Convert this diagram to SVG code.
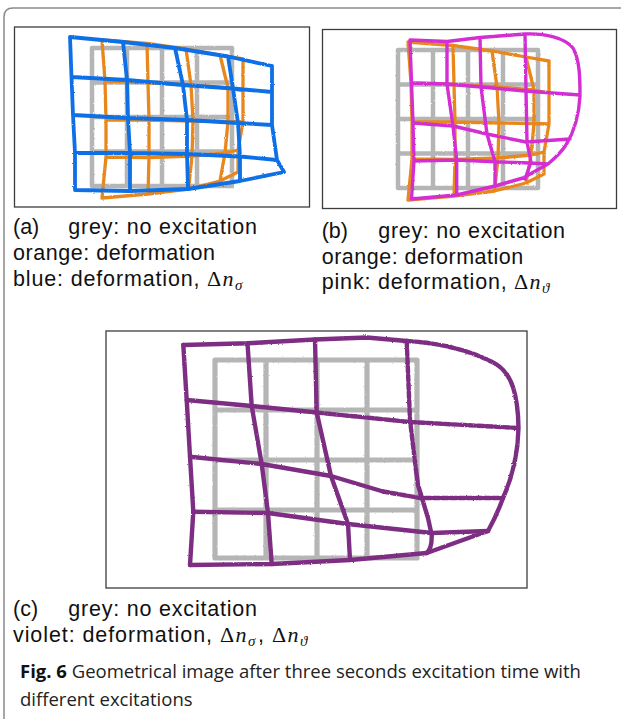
<svg xmlns="http://www.w3.org/2000/svg" xmlns:xlink="http://www.w3.org/1999/xlink" width="621" height="719" viewBox="0 0 621 719">
<style>
  .frame{fill:none;stroke:#8a8a8a;stroke-width:1.5}
  .box{fill:#fff;stroke:#3c3c3c;stroke-width:1.3}
  .ln{fill:none;stroke-linecap:round;stroke-linejoin:round}
  .g{stroke:#b5b5b5;stroke-width:4.5}
  .gc{stroke:#b5b5b5;stroke-width:5.2}
  .o{stroke:#e8871e;stroke-width:3.3}
  .b{stroke:#0b6fe6;stroke-width:3.8}
  .p{stroke:#d32fd3;stroke-width:3.4}
  .v{stroke:#7d2e83;stroke-width:4.4}
  .dash{stroke-dasharray:6 2.5}
  .lbl{font-family:"Liberation Sans",Arial,sans-serif;font-size:21.5px;fill:#111}
  .m{font-family:"Liberation Serif","Times New Roman",serif;font-size:22px;fill:#111}
  .mi{font-family:"Liberation Serif","Times New Roman",serif;font-size:22px;font-style:italic;fill:#111}
  .ms{font-family:"Liberation Serif","Times New Roman",serif;font-size:15px;font-style:italic;fill:#111}
  .cap{font-family:"Open Sans","Noto Sans",sans-serif;font-size:18.5px;fill:#222}
  .capb{font-family:"Open Sans","Noto Sans",sans-serif;font-size:18.5px;font-weight:bold;fill:#111}
</style>
<defs>
  <filter id="rough" x="-5%" y="-5%" width="110%" height="110%">
    <feTurbulence type="fractalNoise" baseFrequency="0.9" numOctaves="1" seed="3"/>
    <feDisplacementMap in="SourceGraphic" scale="2.2" xChannelSelector="R" yChannelSelector="G"/>
  </filter>
  <path id="greyA" d="M92,48V186M127,48V186M162,48V186M197,48V186M232,48V186M92,48H232M92,82.5H232M92,117H232M92,151.5H232M92,186H232"/>
  <path id="orangeA" d="M102,40L147,43.5 186,49 220,55 243,59M105,81L148,82.5 191,85 228,88 243,91M106,120L149,120 193,121 228,121.5 243,122M106,157L149,157.5 192,156 225,153 238,150M102,198L148,194 188.5,189 220,181 238,172M102,40L105,81 106,120 106,157 102,198M147,43.5L148,82.5 149,120 149,157.5 148,194M186,49L191,85 193,121 192,156 188.5,189M220,55L228,88 228,121.5 225,153 220,181M243,59L243,91 243,122 238,150 238,172"/>
</defs>

<path class="frame" d="M4,719V17Q4,8 13,8H621"/>

<g id="panel-a">
  <rect class="box" x="14.5" y="27" width="295" height="180"/>
  <g filter="url(#rough)">
    <use xlink:href="#greyA" class="ln g"/>
    <use xlink:href="#orangeA" class="ln o"/>
    <path class="ln b" d="M70,37L123,42 175,48 228,56.5 272,66M71.5,77L127,80 183,85 233,88.5 272,92M73,115L128,118 187,120 238,123 272,125M75,153L130,153 187,154 240,156.5 277,160M75,190L130,191 188,189 240,181 284,172M70,37L71.5,77 73,115 75,153 75,190M123,42L127,80 128,118 130,153 130,191M175,48L183,85 187,120 187,154 188,189M228,56.5L233,88.5 238,123 240,156.5 240,181M272,66L272,92 272,125 277,160 284,172"/>
  </g>
  <text class="lbl" x="13" y="234">(a)</text>
  <text class="lbl" x="68.3" y="234" textLength="188.7" lengthAdjust="spacing">grey: no excitation</text>
  <text class="lbl" x="13" y="260" textLength="202" lengthAdjust="spacing">orange: deformation</text>
  <text class="lbl" x="13" y="286" textLength="186.5" lengthAdjust="spacing">blue: deformation,</text>
  <text class="m" x="207" y="286">Δ</text>
  <text class="mi" x="222.5" y="286">n</text>
  <text class="ms" x="235" y="290">σ</text>
</g>

<g id="panel-b">
  <rect class="box" x="322.5" y="29.5" width="294" height="179"/>
  <g filter="url(#rough)">
    <use xlink:href="#greyA" class="ln g" transform="translate(306,2)"/>
    <use xlink:href="#orangeA" class="ln o" transform="translate(306,2)"/>
    <path class="ln p" d="M410,40L447,41.5 480,37.5 525,34C545,33 565,38 573,48C580,60 580,80 580,96C579,115 574,132 566,145C560,154 554,159 548,164M411.5,83L447,84 481,87 525,91 580,95M413,123L453,126 487,134 526,142 570,139M414,161L456.7,160 495,161.7 530,163 548,164M411.5,199L456.7,195 495,186 523,178 548,164M410,40L411.5,83 413,123 414,161 411.5,199M447,41.5L447,84 453,126 456.7,160 456.7,195M480,37.5L481,87 487,134 495,161.7 495,186M525,34L526,90 527,142 531,162 525,179"/>
  </g>
  <text class="lbl" x="321.7" y="238">(b)</text>
  <text class="lbl" x="378.3" y="238" textLength="186.7" lengthAdjust="spacing">grey: no excitation</text>
  <text class="lbl" x="321.7" y="264" textLength="201.5" lengthAdjust="spacing">orange: deformation</text>
  <text class="lbl" x="321.7" y="289" textLength="185" lengthAdjust="spacing">pink: deformation,</text>
  <text class="m" x="514" y="289">Δ</text>
  <text class="mi" x="529.5" y="289">n</text>
  <text class="ms" x="542" y="293">ϑ</text>
</g>

<g id="panel-c">
  <rect class="box" x="106" y="331" width="421" height="257"/>
  <g filter="url(#rough)">
    <path class="ln gc" d="M215,360V558M266,360V558M317,360V558M367,360V558M417,360V558M215,360H417M215,410H417M215,460H417M215,510H417M215,558H417"/>
    <g class="ln v">
      <path d="M183.3,345L247.5,343.3 315,339.5 366.7,337.5 406.7,341"/>
      <path class="dash" d="M406.7,341C440,343 470,350 496,364"/>
      <path d="M496,364C512,374 518,395 518.5,428C518,455 511,480 503,498C498,512 493,522 488,531"/>
      <path d="M186.7,400L251.7,406 316.7,412.5"/>
      <path class="dash" d="M316.7,412.5L410,422 518.5,428"/>
      <path d="M190,456.7L261.7,464 331,476 383,491.5"/>
      <path class="dash" d="M383,491.5L420,498 503,498"/>
      <path d="M193.3,511.7L268,513 348,524 431.7,533 488,531"/>
      <path d="M190,565L271.7,564 350,560 426.7,553 488,531"/>
      <path d="M183.3,345L186.7,400 190,456.7 193.3,511.7 190,565"/>
      <path d="M247.5,343.3L251.7,406 261.7,464 268,513 271.7,564"/>
      <path d="M315,339.5L316.7,412.5 331,476 348,524 350,560"/>
      <path class="dash" d="M406.7,341L410,420 416,470"/>
      <path d="M416,470L418,485 428,518 431.7,535C432,545 430,550 426.7,553"/>
    </g>
  </g>
  <text class="lbl" x="13" y="616">(c)</text>
  <text class="lbl" x="68.3" y="616" textLength="188.7" lengthAdjust="spacing">grey: no excitation</text>
  <text class="lbl" x="13" y="642" textLength="199" lengthAdjust="spacing">violet: deformation,</text>
  <text class="m" x="220" y="642">Δ</text>
  <text class="mi" x="235.5" y="642">n</text>
  <text class="ms" x="248" y="646">σ</text>
  <text class="lbl" x="258" y="642">,</text>
  <text class="m" x="272" y="642">Δ</text>
  <text class="mi" x="287.5" y="642">n</text>
  <text class="ms" x="300" y="646">ϑ</text>
</g>

<g id="caption">
  <text x="20" y="678"><tspan class="capb">Fig. 6</tspan><tspan class="cap"> Geometrical image after three seconds excitation time with</tspan></text>
  <text class="cap" x="20" y="706">different excitations</text>
</g>
</svg>
